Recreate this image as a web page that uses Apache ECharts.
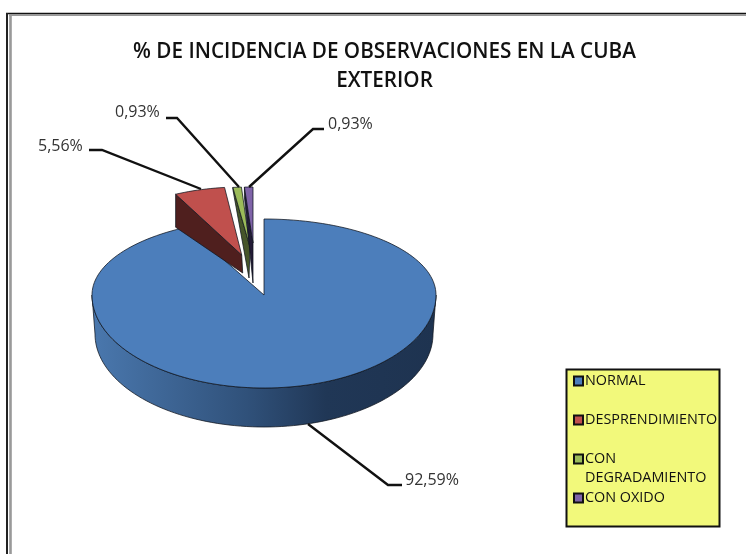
<!DOCTYPE html>
<html><head><meta charset="utf-8">
<style>html,body{margin:0;padding:0;background:#fff}#c{width:746px;height:554px;filter:blur(0.45px)}</style>
<script src="https://cdn.jsdelivr.net/npm/echarts@6/dist/echarts.min.js"></script>
</head><body><div id="c"></div>
<script>
const categories = ['NORMAL', 'DESPRENDIMIENTO', 'CON DEGRADAMIENTO', 'CON OXIDO'];
const values = [92.59, 5.56, 0.93, 0.93];
const titleLines = ['% DE INCIDENCIA DE OBSERVACIONES EN LA CUBA', 'EXTERIOR'];

const colors = ['#4c7ebb', '#c0504d', '#9bbb59', '#7f63a8'];
const sideColors = ['#1f3552', '#4f1f1e', '#46552a', '#221b36'];
// Perspective pie geometry, per wedge: apex, radii and wall depth
const geo = [
  {ax:264, ay:295, rx:172, ryT:76, ryB:93, depth:39},
  {ax:241.7, ay:255, rx:147, ryT:68, ryB:68, depth:33, apexDepth:18, lowDx:1},
  {ax:250, ay:247, rx:147, ryT:60, ryB:60, depth:2, apexDepth:31, lowDx:-1},
  {ax:253, ay:243, rx:147, ryT:56, ryB:56, depth:10, apexDepth:40, lowDx:0}
];
const leaders = [
  {pts:[[308,424],[388,485],[402,485]], tx:405, ty:480},
  {pts:[[201,189],[102,150],[89,150]], tx:38, ty:146},
  {pts:[[239,187],[177,118],[166,118]], tx:115, ty:112},
  {pts:[[249,187],[313,129],[324,129]], tx:328, ty:124}
];
const total = values.reduce((a, b) => a + b, 0);
function pt(g, deg, dx, dy) {
  const t = deg * Math.PI / 180, c = Math.cos(t);
  return [g.ax + (g.rx - (dx || 0)) * Math.sin(t), g.ay + (dy || 0) - (c > 0 ? g.ryT : g.ryB) * c];
}
function arc(g, a0, a1, dx, dy) {
  const out = [], n = Math.max(2, Math.ceil(Math.abs(a1 - a0) / 2));
  for (let i = 0; i <= n; i++) out.push(pt(g, a0 + (a1 - a0) * i / n, dx, dy));
  return out;
}
const labelFont = '16px "Open Sans", sans-serif';
function makeRender(idx) {
  return function (params, api) {
    const v = api.value(0);
    let s = 0;
    for (let i = 0; i < idx; i++) s += values[i];
    const a0 = s / total * 360, a1 = a0 + v / total * 360;
    const g = geo[idx], kids = [];
    const stroke = {stroke: 'rgba(15,20,30,0.75)', lineWidth: 1};
    if (idx === 0) {
      const wall = arc(g, 90, 270).concat(arc(g, 270, 90, 3, g.depth));
      kids.push({type: 'polygon', shape: {points: wall}, style: Object.assign({
        fill: new echarts.graphic.LinearGradient(0, 0, 1, 0, [
          {offset: 0, color: '#4a78ae'}, {offset: 0.45, color: '#30517a'},
          {offset: 0.68, color: '#203756'}, {offset: 1, color: '#1e3350'}])
      }, stroke)});
    } else {
      const r0 = pt(g, a0), apexLow = [g.ax + g.lowDx, g.ay + g.apexDepth];
      kids.push({type: 'polygon', shape: {points: [r0, [r0[0], r0[1] + g.depth], apexLow, [g.ax, g.ay]]},
        style: Object.assign({fill: sideColors[idx]}, stroke)});
    }
    kids.push({type: 'polygon', shape: {points: [[g.ax, g.ay]].concat(arc(g, a0, a1))},
      style: Object.assign({fill: colors[idx]}, stroke)});
    const l = leaders[idx];
    kids.push({type: 'polyline', shape: {points: l.pts}, style: {stroke: '#111', lineWidth: 2.4, fill: null}});
    kids.push({type: 'text', style: {x: l.tx, y: l.ty, text: v.toFixed(2).replace('.', ',') + '%',
      font: labelFont, fill: '#333', verticalAlign: 'middle'}});
    return {type: 'group', children: kids};
  };
}
const legendNames = {
  'NORMAL': '{t|NORMAL}', 'DESPRENDIMIENTO': '{t|DESPRENDIMIENTO}',
  'CON DEGRADAMIENTO': '{s| }\n{s|CON}\n{s|DEGRADAMIENTO}', 'CON OXIDO': '{t|CON OXIDO}'
};
const chart = echarts.init(document.getElementById('c'), null, {renderer: 'canvas'});
const legendFont = {fontFamily: '"Open Sans", sans-serif', fontSize: 14.4, color: '#111'};
chart.setOption({
  animation: false,
  backgroundColor: '#fff',
  title: {
    text: titleLines.join('\n'), left: 379.5, top: 33, textAlign: 'center',
    textStyle: {fontFamily: '"Open Sans", sans-serif', fontWeight: 600, fontSize: 20.7, lineHeight: 29, color: '#111'}
  },
  legend: {
    orient: 'vertical', left: 573, top: 352.5, padding: 0, itemGap: -18, itemWidth: 9, itemHeight: 9, icon: 'rect',
    selectedMode: false, data: categories, z: 10,
    itemStyle: {borderColor: '#111', borderWidth: 2},
    formatter: n => legendNames[n],
    textStyle: Object.assign({}, legendFont, {padding: [0, 0, 0, -3], rich: {
      t: Object.assign({}, legendFont, {lineHeight: 57, height: 57}),
      s: Object.assign({}, legendFont, {lineHeight: 19, height: 19})
    }})
  },
  graphic: [
    {type: 'line', z: 0, shape: {x1: 6, y1: 13.5, x2: 746, y2: 13.5}, style: {stroke: '#111', lineWidth: 1.6}},
    {type: 'line', z: 0, shape: {x1: 9, y1: 15, x2: 746, y2: 15}, style: {stroke: '#999', lineWidth: 2}},
    {type: 'line', z: 0, shape: {x1: 7, y1: 13, x2: 7, y2: 554}, style: {stroke: '#222', lineWidth: 2}},
    {type: 'line', z: 0, shape: {x1: 10.5, y1: 15, x2: 10.5, y2: 554}, style: {stroke: '#999', lineWidth: 2.6}},
    {type: 'rect', z: 1, shape: {x: 566.5, y: 369.5, width: 153, height: 157}, style: {fill: '#f2f97b', stroke: '#111', lineWidth: 2}}
  ],
  series: categories.map((name, i) => ({
    type: 'custom', name, coordinateSystem: 'none', silent: true, z: 2 + i,
    itemStyle: {color: colors[i]}, data: [[values[i]]], renderItem: makeRender(i)
  }))
});
</script></body></html>
